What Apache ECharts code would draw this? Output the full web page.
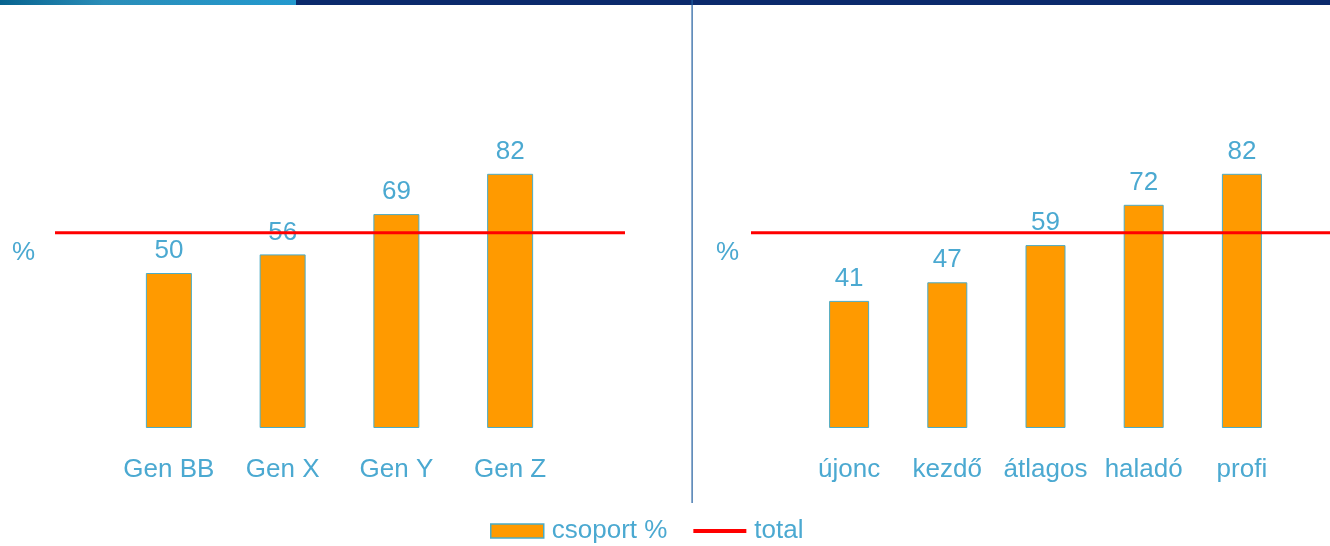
<!DOCTYPE html>
<html>
<head>
<meta charset="utf-8">
<script src="https://cdn.jsdelivr.net/npm/echarts@6/dist/echarts.min.js"></script>
<style>
html,body{margin:0;padding:0;background:#fff;}
#chart{width:1330px;height:546px;}
</style>
</head>
<body>
<div id="chart"></div>
<script>
const genCategories = ['Gen BB', 'Gen X', 'Gen Y', 'Gen Z'];
const genValues = [50, 56, 69, 82];
const genTotal = 63;

const levelCategories = ['újonc', 'kezdő', 'átlagos', 'haladó', 'profi'];
const levelValues = [41, 47, 59, 72, 82];
const levelTotal = 63;

const barName = 'csoport %';
const lineName = 'total';

const TXT = '#4BA9D1';
const FONT = '"Liberation Sans", Arial, sans-serif';

const chart = echarts.init(document.getElementById('chart'));

function yAx(gi){
  return {type:'value', gridIndex:gi, min:0, max:100, show:false};
}
function catAx(gi, data){
  return {type:'category', gridIndex:gi, data:data,
    axisLine:{show:false}, axisTick:{show:false}, splitLine:{show:false},
    axisLabel:{interval:0, color:TXT, fontSize:26, fontFamily:FONT, margin:29, lineHeight:26}};
}
function lineAx(gi){
  return {type:'value', gridIndex:gi, min:0, max:1, show:false};
}
function barSeries(xi, data, w){
  return {name:barName, type:'bar', xAxisIndex:xi, yAxisIndex:xi, data:data, barWidth:w,
    itemStyle:{color:'#FF9A00', borderColor:'#4BACC6', borderWidth:1},
    label:{show:true, position:'top', distance:9, color:TXT, fontSize:26, fontFamily:FONT, lineHeight:26},
    z:2, animation:false};
}
function totalSeries(xi, v){
  return {name:lineName, type:'line', xAxisIndex:xi, yAxisIndex:xi, data:[[0,v],[1,v]],
    symbol:'none', lineStyle:{color:'#FF0000', width:3}, itemStyle:{color:'#FF0000'},
    z:10, animation:false, silent:true};
}

chart.setOption({
  backgroundColor:'#fff',
  animation:false,
  grid:[
    {left:112, top:118, width:455, height:310},
    {left:800, top:118, width:491, height:310},
    {left:55, top:118, width:570, height:310},
    {left:751, top:118, width:589, height:310}
  ],
  xAxis:[catAx(0, genCategories), catAx(1, levelCategories), lineAx(2), lineAx(3)],
  yAxis:[yAx(0), yAx(1), yAx(2), yAx(3)],
  legend:{
    left:485, top:513, itemWidth:53, itemHeight:14, itemGap:26,
    textStyle:{color:TXT, fontSize:26, fontFamily:FONT, padding:[0,0,0,3]},
    data:[
      {name:barName, icon:'rect', itemStyle:{color:'#FF9A00', borderColor:'#4BACC6', borderWidth:1.5}},
      {name:lineName, icon:'path://M0,0 M53,14 M0,5 L53,5 L53,9 L0,9 Z', itemStyle:{color:'#FF0000', borderWidth:0}, lineStyle:{width:0, opacity:0}}
    ],
    selectedMode:false
  },
  series:[
    barSeries(0, genValues, 46),
    barSeries(1, levelValues, 40),
    totalSeries(2, genTotal),
    totalSeries(3, levelTotal)
  ],
  graphic:[
    {type:'rect', shape:{x:0, y:0, width:296, height:5}, silent:true,
      style:{fill:new echarts.graphic.LinearGradient(0,0,1,0,[{offset:0,color:'#07638F'},{offset:0.35,color:'#2A8DB8'},{offset:1,color:'#2399CE'}])}},
    {type:'rect', shape:{x:296, y:0, width:1034, height:5}, silent:true, style:{fill:'#0B2A6C'}},
    {type:'rect', shape:{x:691.5, y:0, width:1.2, height:503}, silent:true, style:{fill:'#1F5C9E'}},
    {type:'text', left:12, top:240, silent:true, style:{text:'%', fill:TXT, fontSize:26, fontFamily:FONT}},
    {type:'text', left:716, top:240, silent:true, style:{text:'%', fill:TXT, fontSize:26, fontFamily:FONT}}
  ]
});
</script>
</body>
</html>
